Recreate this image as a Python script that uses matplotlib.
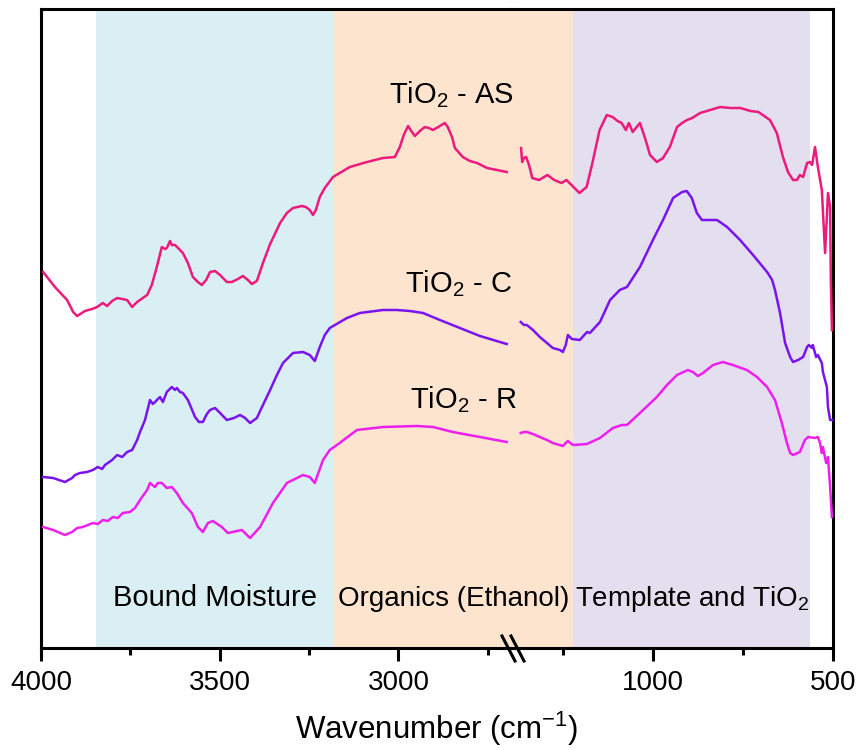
import matplotlib
matplotlib.use("Agg")
import matplotlib.pyplot as plt
from matplotlib.lines import Line2D

plt.rcParams["font.family"] = ["Liberation Sans", "DejaVu Sans"]
plt.rcParams["mathtext.fontset"] = "custom"
plt.rcParams["mathtext.rm"] = "Liberation Sans"
plt.rcParams["mathtext.it"] = "Liberation Sans:italic"
plt.rcParams["mathtext.bf"] = "Liberation Sans:bold"

# ---- FTIR spectra (offset, arbitrary units) ----
# high-wavenumber segment (4000 - 2690 cm-1)
as_hi_wn = [3994, 3961, 3927, 3910, 3899, 3877, 3857, 3843, 3827, 3815, 3801, 3787, 3773, 3759,
            3745, 3731, 3715, 3703, 3690, 3676, 3662, 3653, 3648, 3639, 3634, 3625, 3611, 3603,
            3589, 3575, 3561, 3550, 3538, 3527, 3513, 3499, 3480, 3466, 3449, 3435, 3421, 3410,
            3396, 3379, 3359, 3331, 3312, 3295, 3270, 3259, 3248, 3239, 3231, 3220, 3206, 3183,
            3136, 3088, 3043, 3010, 2996, 2985, 2973, 2962, 2954, 2940, 2926, 2915, 2903, 2884,
            2870, 2862, 2850, 2842, 2820, 2800, 2780, 2752, 2724, 2697]
as_hi_val = [376, 361, 348, 336, 332, 337, 339, 341, 345, 342, 347, 350, 349, 348,
             341, 346, 350, 353, 363, 381, 401, 399, 400, 407, 403, 403, 398, 395,
             385, 371, 366, 363, 368, 376, 377, 373, 366, 366, 369, 372, 368, 364,
             367, 385, 404, 425, 435, 440, 442, 441, 438, 433, 438, 451, 460, 471,
             481, 486, 490, 491, 501, 513, 522, 516, 512, 517, 521, 520, 518, 522,
             525, 521, 511, 500, 491, 487, 485, 480, 478, 476]

c_hi_wn = [3994, 3966, 3933, 3913, 3905, 3891, 3871, 3855, 3841, 3829, 3821, 3801, 3787, 3773,
           3759, 3745, 3731, 3723, 3709, 3695, 3687, 3681, 3673, 3667, 3659, 3648, 3634, 3625,
           3620, 3611, 3603, 3589, 3569, 3558, 3547, 3536, 3527, 3513, 3499, 3480, 3460, 3443,
           3429, 3415, 3396, 3379, 3359, 3340, 3323, 3295, 3267, 3248, 3234, 3220, 3206, 3192,
           3144, 3108, 3043, 3004, 2968, 2931, 2884, 2828, 2772, 2697]
c_hi_val = [171, 170, 166, 170, 173, 175, 176, 178, 181, 179, 183, 188, 193, 191,
            196, 198, 208, 216, 228, 248, 244, 246, 249, 251, 246, 256, 261, 258,
            260, 256, 255, 248, 231, 226, 226, 234, 238, 240, 235, 228, 230, 233,
            230, 225, 230, 243, 258, 273, 285, 295, 296, 293, 287, 301, 313, 320,
            330, 335, 338, 338, 337, 335, 328, 320, 312, 304]

r_hi_wn = [3994, 3966, 3933, 3913, 3899, 3883, 3855, 3841, 3827, 3813, 3799, 3785, 3771, 3751,
           3737, 3723, 3703, 3695, 3681, 3673, 3662, 3648, 3634, 3620, 3603, 3578, 3561, 3547,
           3533, 3519, 3494, 3477, 3438, 3415, 3387, 3351, 3312, 3267, 3248, 3234, 3211, 3192,
           3172, 3116, 3043, 2948, 2903, 2848, 2772, 2697]
r_hi_val = [121, 118, 113, 116, 120, 121, 125, 124, 128, 127, 131, 130, 135, 136,
            140, 148, 158, 165, 161, 165, 165, 160, 161, 155, 145, 135, 121, 116,
            125, 127, 121, 115, 118, 110, 121, 145, 165, 173, 171, 165, 188, 198,
            203, 218, 221, 222, 221, 216, 211, 206]

# low-wavenumber segment (1370 - 500 cm-1)
as_lo_wn = [1366, 1363, 1358, 1352, 1344, 1335, 1316, 1293, 1274, 1254, 1240, 1226, 1204, 1184,
            1168, 1148, 1128, 1112, 1098, 1087, 1075, 1067, 1056, 1045, 1036, 1022, 1008, 989,
            972, 953, 933, 919, 905, 891, 869, 841, 813, 785, 757, 729, 707, 683, 675, 656,
            639, 625, 611, 600, 592, 583, 572, 564, 558, 550, 542, 531, 522, 517, 514, 508,
            506, 503]
as_lo_val = [500, 486, 490, 491, 483, 470, 468, 473, 468, 465, 468, 463, 455, 461,
             485, 518, 533, 531, 527, 525, 518, 525, 516, 521, 525, 510, 493, 486,
             490, 501, 521, 525, 528, 530, 535, 538, 541, 540, 540, 537, 536, 530, 528, 515,
             491, 476, 468, 468, 473, 471, 485, 486, 483, 501, 481, 458, 395, 431, 455, 441,
             368, 318]

c_lo_wn = [1367, 1358, 1350, 1333, 1314, 1294, 1278, 1258, 1250, 1242, 1236, 1225, 1203, 1183,
           1175, 1147, 1119, 1092, 1072, 1036, 1000, 972, 944, 919, 906, 892, 878, 864,
           822, 794, 758, 722, 683, 669, 661, 647, 633, 619, 611, 597, 583, 572, 567, 558,
           556, 547, 542, 531, 528, 517, 514, 508, 503]
c_lo_val = [326, 323, 323, 318, 311, 305, 300, 298, 296, 303, 313, 309, 308, 316,
            315, 326, 348, 358, 361, 381, 408, 428, 450, 456, 457, 450, 435, 428,
            428, 421, 408, 393, 376, 368, 358, 335, 305, 291, 286, 288, 291, 301, 303, 300,
            303, 291, 293, 285, 276, 261, 241, 228, 228]

r_lo_wn = [1367, 1358, 1350, 1333, 1314, 1294, 1278, 1250, 1242, 1236, 1222, 1183, 1147, 1111,
           1086, 1072, 1036, 989, 961, 933, 903, 889, 875, 861, 833, 806, 778, 739,
           711, 683, 661, 642, 628, 619, 611, 592, 578, 569, 550, 542, 536, 531,
           528, 519, 514, 508, 503]
r_lo_val = [215, 216, 216, 214, 211, 208, 205, 202, 205, 207, 203, 204, 210, 220,
            223, 223, 235, 251, 263, 273, 278, 276, 272, 275, 283, 286, 283, 278,
            271, 261, 248, 225, 205, 195, 193, 196, 208, 211, 210, 211, 205, 195,
            201, 185, 191, 161, 131]

series_names = ["TiO$_2$ - AS", "TiO$_2$ - C", "TiO$_2$ - R"]
series_colors = ["#EC1A7C", "#7A14EE", "#EE1FEE"]

region_names = ["Bound Moisture", "Organics (Ethanol)", "Template and TiO$_2$"]
region_colors = ["#DAEFF3", "#FDE4CF", "#E4DFEF"]

# ---- layout (figure in pixels) ----
W, H = 860, 750
fig = plt.figure(figsize=(W / 100, H / 100), dpi=100)


def fpos(px, py):
    return px / W, 1 - py / H


x_left, x_break, x_right = 41, 511, 833
y_top, y_bot = 9, 648
ax1 = fig.add_axes([x_left / W, 1 - y_bot / H, (x_break - x_left) / W, (y_bot - y_top) / H])
ax2 = fig.add_axes([x_break / W, 1 - y_bot / H, (x_right - x_break) / W, (y_bot - y_top) / H])

ax1.set_xlim(4000, 2685)
ax2.set_xlim(1394, 500)
for ax in (ax1, ax2):
    ax.set_ylim(0, 639)
    ax.set_yticks([])

# shaded assignment regions
ax1.axvspan(3846, 3183, color=region_colors[0], lw=0, zorder=0)
ax1.axvspan(3183, 2685, color=region_colors[1], lw=0, zorder=0)
ax2.axvspan(1394, 1222, color=region_colors[1], lw=0, zorder=0)
ax2.axvspan(1222, 564, color=region_colors[2], lw=0, zorder=0)

hi = [(as_hi_wn, as_hi_val), (c_hi_wn, c_hi_val), (r_hi_wn, r_hi_val)]
lo = [(as_lo_wn, as_lo_val), (c_lo_wn, c_lo_val), (r_lo_wn, r_lo_val)]
for (wn, v), col in zip(hi, series_colors):
    ax1.plot(wn, v, color=col, lw=1.8, zorder=3, solid_joinstyle="round")
for (wn, v), col in zip(lo, series_colors):
    ax2.plot(wn, v, color=col, lw=1.8, zorder=3, clip_on=False, solid_joinstyle="round")

# spines and ticks
for ax in (ax1, ax2):
    for s in ax.spines.values():
        s.set_linewidth(2.2)
    ax.tick_params(axis="x", which="major", direction="out", length=9, width=2.2,
                   labelsize=20, pad=7)
    ax.tick_params(axis="x", which="minor", direction="out", length=5, width=2.2)
ax1.spines["right"].set_visible(False)
ax2.spines["left"].set_visible(False)
ax1.set_xticks([4000, 3500, 3000])
ax1.set_xticks([3750, 3250, 2750], minor=True)
ax2.set_xticks([1000, 500])
ax2.set_xticks([1250, 750], minor=True)

# series labels
fig.text(*fpos(451, 103), series_names[0], ha="center", va="baseline", fontsize=21)
fig.text(*fpos(459, 292), series_names[1], ha="center", va="baseline", fontsize=21)
fig.text(*fpos(463, 408), series_names[2], ha="center", va="baseline", fontsize=21)

# region labels
fig.text(*fpos(215, 606), region_names[0], ha="center", va="baseline", fontsize=21)
fig.text(*fpos(454, 606), region_names[1], ha="center", va="baseline", fontsize=20)
fig.text(*fpos(692, 606), region_names[2], ha="center", va="baseline", fontsize=20)

# axis-break marks
for x0 in (502, 511):
    fig.add_artist(Line2D([x0 / W, (x0 + 13) / W], [1 - 636 / H, 1 - 661 / H],
                          color="black", lw=2.2, transform=fig.transFigure))

fig.text(*fpos(437, 729), "Wavenumber (cm$^{-1}$)", ha="center", va="center",
         fontsize=22.5)

fig.savefig("out.png", dpi=100)
